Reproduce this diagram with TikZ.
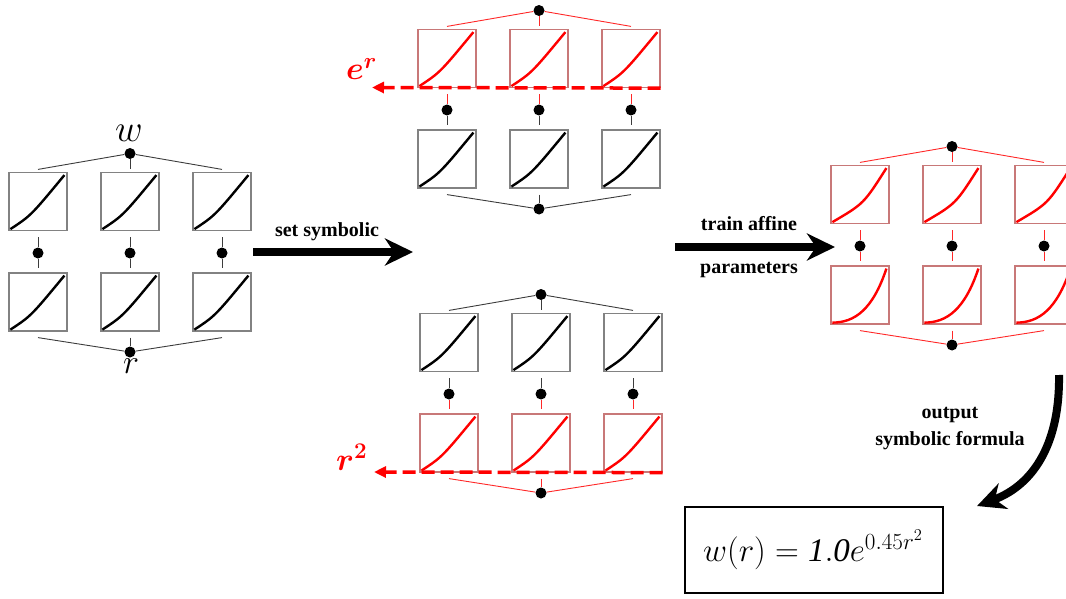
\documentclass[tikz,border=0pt]{standalone}
\usepackage{fix-cm}
\usepackage{fontspec}
\setmainfont{Liberation Serif}
\usepackage{bm}
\usetikzlibrary{arrows.meta,calc}
\definecolor{blkbox}{RGB}{130,130,130}
\definecolor{blkline}{RGB}{60,60,60}
\definecolor{blkcurve}{RGB}{0,0,0}
\definecolor{redbox}{RGB}{200,120,120}
\definecolor{redline}{RGB}{255,40,40}
\definecolor{redcurve}{RGB}{255,0,0}
\tikzset{
  netbox/.style={draw=#1box, line width=1.2pt, minimum size=58pt, inner sep=0pt, fill=white},
  netdot/.style={circle, fill=black, minimum size=11pt, inner sep=0pt},
  netline/.style={draw=#1line, line width=0.9pt},
  netcurve/.style={draw=#1curve, line width=2.4pt},
  bigarrow/.style={line width=8pt, -{Stealth[length=28pt,width=27pt,inset=9pt]}},
  symarrow/.style={draw=red, line width=3.5pt, dash pattern=on 13pt off 6pt, -{Triangle[length=12pt,width=11pt]}},
  lbl/.style={font=\fontsize{20}{27}\selectfont\bfseries, inner sep=0pt},
}
\newcommand\kannet[7]{%
  \node[netdot] (#1T) at (#2,{#3-99.5}) {};
  \node[netdot] (#1B) at (#2,{#3+99}) {};
  \foreach \i/\dx in {1/-92,2/0,3/92}{%
    \node[netbox=#4] (#1t\i) at ({#2+\dx},{#3-51.5}) {};
    \node[netbox=#6] (#1b\i) at ({#2+\dx},{#3+49}) {};
    \node[netdot] (#1m\i) at ({#2+\dx},#3) {};
    \begin{scope}[shift={($(#1t\i.south west)+(2pt,2pt)$)},x=54pt,y=54pt]
      \draw[netcurve=#4] (0,0) .. controls (#5) .. (1,1);
    \end{scope}
    \begin{scope}[shift={($(#1b\i.south west)+(2pt,2pt)$)},x=54pt,y=54pt]
      \draw[netcurve=#6] (0,0) .. controls (#7) .. (1,1);
    \end{scope}
    \draw[netline=#4] (#1T) -- ([yshift=2.5pt]#1t\i.north);
    \draw[netline=#4] ([yshift=-6pt]#1t\i.south) -- (#1m\i);
    \draw[netline=#6] (#1m\i) -- ([yshift=4pt]#1b\i.north);
    \draw[netline=#6] ([yshift=-6pt]#1b\i.south) -- (#1B);
  }%
}
\begin{document}
\begin{tikzpicture}[x=1pt,y=-1pt]
\useasboundingbox (0,0) rectangle (1066,599);
\clip (0,0) rectangle (1066,599);
% left network
\kannet{L}{130}{253}{blk}{0.38,0.25}{blk}{0.38,0.25}
\node[inner sep=0pt, anchor=base, font=\fontsize{38}{40}\selectfont] (Lw) at (129,142) {$w$};
\node[inner sep=0pt, anchor=base, font=\fontsize{34}{40}\selectfont] (Lr) at (131,373) {$r$};
% top middle network
\kannet{T}{539}{110}{red}{0.38,0.25}{blk}{0.38,0.25}
% bottom middle network
\kannet{B}{541}{394}{blk}{0.38,0.25}{red}{0.38,0.25}
% right network
\kannet{R}{952}{246}{red}{0.58,0.34}{red}{0.42,0) and (0.75,0.25}
% dashed symbolic arrows
\coordinate (Ttip) at (372,87.5);
\draw[symarrow] (Tt3.south east) -- (Ttip);
\node[inner sep=0pt, anchor=base west, text=red, font=\fontsize{32}{36}\selectfont] (Tlbl) at (346,80) {$\bm{e^{r}}$};
\coordinate (Btip) at (374,472);
\draw[symarrow] (Bb3.south east) -- (Btip);
\node[inner sep=0pt, anchor=base west, text=red, font=\fontsize{32}{36}\selectfont] (Blbl) at (336,470) {$\bm{r^{2}}$};
% big arrows
\coordinate (A1s) at (253,252);
\coordinate (A1e) at (413,252);
\draw[bigarrow] (A1s) -- (A1e);
\node[lbl, anchor=base] (A1t) at (327,236) {set symbolic};
\coordinate (A2s) at (675,247);
\coordinate (A2e) at (835,247);
\draw[bigarrow] (A2s) -- (A2e);
\node[lbl, anchor=base] (A2t) at (749,230) {train affine};
\node[lbl, anchor=base] (A2b) at (749,273) {parameters};
\coordinate (A3s) at (1059,375);
\coordinate (A3e) at (977,506);
\draw[bigarrow] (A3s) .. controls (1060,440) and (1036,484) .. (A3e);
\node[lbl, align=center] (A3t) at (950,429) {output\\symbolic formula};
% formula
\node[draw, line width=1.5pt, minimum width=258pt, minimum height=86pt, inner sep=0pt] (F) at (814,550) {};
\node[inner sep=0pt, anchor=base, font=\fontsize{33}{36}\selectfont] (Ft) at (813,561) {$w(r) = \mathit{1.0}e^{0.45r^{2}}$};
\end{tikzpicture}
\end{document}
